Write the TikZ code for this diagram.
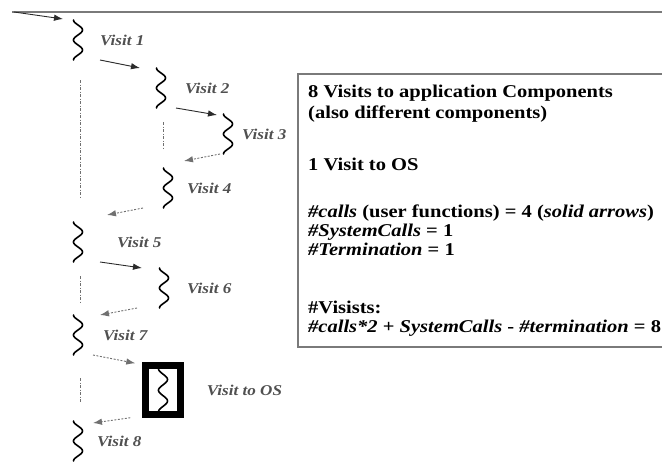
\documentclass[tikz,border=0pt]{standalone}
\usepackage{fontspec}
\setmainfont{Liberation Serif}[FakeStretch=1.14]
\usepackage{tikz}
\usetikzlibrary{arrows.meta}
\usetikzlibrary{positioning}
\usetikzlibrary{calc}
\definecolor{callgray}{HTML}{2B2B2B}
\definecolor{backgray}{HTML}{707070}
\definecolor{labelgray}{HTML}{505050}
\definecolor{framegray}{HTML}{7A7A7A}
\tikzset{
  visit/.style = {rectangle, minimum width=12pt, minimum height=40pt,
    inner sep=0pt, outer sep=0pt},% component, room for the wave
  osvisit/.style = {rectangle, draw=black, line width=6.5pt, fill=white,
    minimum width=35pt, minimum height=49pt, inner sep=0pt},% visit to the OS
  vlabel/.style = {inner sep=0pt, text=labelgray,
    font=\fontsize{15}{18}\selectfont\bfseries\itshape},
  wave/.style = {line width=1.6pt, black, line cap=round},
  call/.style = {-{Latex[length=9pt,width=6.5pt]}, callgray, line width=0.9pt},% solid arrow
  back/.style = {-{Latex[length=9pt,width=6.5pt]}, backgray, line width=0.9pt,
    dash pattern=on 2pt off 1.5pt},% return arrow
  lifeline/.style = {backgray, line width=0.8pt,
    dash pattern=on 3pt off 1.5pt on 1pt off 1.5pt},
  infotext/.style = {anchor=base west, inner sep=0pt,
    font=\fontsize{18}{21}\selectfont\bfseries}
}
\newcommand{\wavy}[2][40]{% wave hanging from point #2
  \draw[wave, shift={(#2)}] plot[domain=0:#1, samples=60, smooth, variable=\t]
    ({-4.5*cos(\t*(720/#1))}, \t);}

\begin{document}
\begin{tikzpicture}[x=1pt, y=-1pt]
\useasboundingbox (0,0) rectangle (662,461);
\draw[framegray, line width=1.5pt] (12,12) -- (662,12);

% components
\node [visit] (v1) at (78,40) {};
\node [visit] (v2) at (161,88) {};
\node [visit] (v3) at (228,134) {};
\node [visit] (v4) at (168,188) {};
\node [visit] (v5) at (78,242) {};
\node [visit] (v6) at (164,288) {};
\node [visit] (v7) at (78,335) {};
\node [osvisit] (os) at (163,390) {};
\node [visit] (v8) at (78,441) {};
\foreach \v in {v1,v2,v3,v4,v5,v6,v7,v8} {\wavy{\v.north}}
\wavy[43]{$(os.north)+(0,6.5)$}

\node [vlabel, right=16pt of v1] (l1) {Visit 1};
\node [vlabel, right=18pt of v2] (l2) {Visit 2};
\node [vlabel, right=8pt of v3] (l3) {Visit 3};
\node [vlabel, right=13pt of v4] (l4) {Visit 4};
\node [vlabel, right=33pt of v5] (l5) {Visit 5};
\node [vlabel, right=17pt of v6] (l6) {Visit 6};
\node [vlabel, right=19pt of v7] (l7) {Visit 7};
\node [vlabel, right=23pt of os] (los) {Visit to OS};
\node [vlabel, right=13pt of v8] (l8) {Visit 8};

% calls and returns
\coordinate (entry) at (14,12);
\draw[call] (entry) -- ($(v1.north west)+(-9,-1)$);
\draw[call] ($(v1.south east)+(16,0)$) -- ($(v2.north west)+(-15,0)$);
\draw[call] ($(v2.south east)+(9,0)$) -- ($(v3.north west)+(-5,1)$);
\draw[back] ($(v3.south west)+(-2,0)$) -- ($(v4.north east)+(10,-7)$);
\draw[back] ($(v4.south west)+(-19,0)$) -- ($(v5.north east)+(23,-7)$);
\draw[call] ($(v5.south east)+(16,0)$) -- ($(v6.north west)+(-16,0)$);
\draw[back] ($(v6.south west)+(-21,0)$) -- ($(v7.north east)+(16,0)$);
\draw[back] ($(v7.south east)+(9,0)$) -- ($(os.north west)+(-7,1)$);
\draw[back] ($(os.south west)+(-12,0)$) -- ($(v8.north east)+(9,2)$);

% waiting
\draw[lifeline] ($(v1.south)+(2,20)$) -- ($(v5.north)+(2,-24)$);
\draw[lifeline] ($(v2.south)+(2,14)$) -- ($(v4.north)+(-5,-20)$);
\draw[lifeline] ($(v5.south)+(2,14)$) -- ($(v7.north)+(2,-11)$);
\draw[lifeline] ($(v7.south)+(2,23)$) -- ($(v8.north)+(2,-18)$);

% summary
\node [draw=framegray, line width=1.5pt, minimum width=423pt, minimum height=273pt,
  anchor=north west, inner sep=0pt] (info) at (297,73) {};
\node [infotext] (t1) at (308,97) {8 Visits to application Components};
\node [infotext] (t2) at (308,118) {(also different components)};
\node [infotext] (t3) at (308,170) {1 Visit to OS};
\node [infotext] (t4) at (308,217) {\textit{\#calls} (user functions) = 4 (\textit{solid arrows})};
\node [infotext] (t5) at (308,236) {\textit{\#SystemCalls} = 1};
\node [infotext] (t6) at (308,255) {\textit{\#Termination} = 1};
\node [infotext] (t7) at (308,313) {\#Visists:};
\node [infotext] (t8) at (308,332) {\textit{\#calls*2} + \textit{SystemCalls} - \textit{\#termination} = 8};
\end{tikzpicture}
\end{document}
